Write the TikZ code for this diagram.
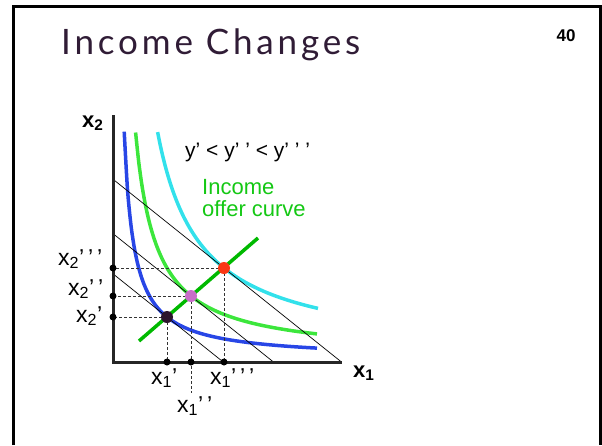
\documentclass[tikz,border=0pt]{standalone}
\usepackage{fontspec}
\setmainfont{Liberation Sans}
\newfontfamily\titlefont{Lato}[LetterSpace=11]
\usetikzlibrary{positioning}

\definecolor{titlecol}{RGB}{48,28,54}
\definecolor{icblue}{RGB}{40,70,230}
\definecolor{icgreen}{RGB}{60,230,60}
\definecolor{iccyan}{RGB}{50,225,235}
\definecolor{offergreen}{RGB}{0,185,0}
\definecolor{textgreen}{RGB}{20,200,20}
\definecolor{ptblack}{RGB}{45,20,45}
\definecolor{ptpurple}{RGB}{200,110,200}
\definecolor{ptred}{RGB}{250,55,20}

\begin{document}
\begin{tikzpicture}[x=1pt,y=-1pt,
    axis/.style={line width=3pt, black!85},
    budget/.style={line width=0.7pt, black},
    guide/.style={line width=0.6pt, black!80, dash pattern=on 3pt off 2pt},
    indiff/.style={line width=3.5pt},
    axdot/.style={circle, fill=black, inner sep=0pt, minimum size=7pt},
    optdot/.style={circle, inner sep=0pt, minimum size=12pt},
    lbl/.style={font=\fontsize{23}{25}\selectfont, inner sep=0pt, anchor=base west}
]
\useasboundingbox (0,0) rectangle (602,445);

% frame and heading
\draw[line width=3pt] (13,445) -- (13,6) -- (600,6) -- (600,445);
\node[anchor=base west, inner sep=0pt, text=titlecol,
      font=\titlefont\fontsize{35}{40}\selectfont] (title) at (61,54) {Income Changes};
\node[anchor=base, inner sep=0pt, font=\bfseries\fontsize{17}{19}\selectfont] (pagenum) at (566,41) {40};

\begin{scope}[shift={(113,362)}, y=1pt]
    \coordinate (O) at (0,0);
    \coordinate (ytop) at (0,247);
    \coordinate (xend) at (229,0);

    % indifference curves
    \draw[indiff, icblue]  plot[domain=11.2:204, samples=60, smooth] (\x, {3+2205/(\x-1.5)});
    \draw[indiff, icgreen] plot[domain=22.6:204, samples=60, smooth] (\x, {5.2+4620.8/(\x-2)});
    \draw[indiff, iccyan]  plot[domain=44.6:205, samples=60, smooth] (\x, {6.8+9505/(\x-2)});

    % budget lines
    \coordinate (b1y) at (0,88.2);  \coordinate (b1x) at (110.25,0);
    \coordinate (b2y) at (0,128.4); \coordinate (b2x) at (160.5,0);
    \coordinate (b3y) at (0,182.8); \coordinate (b3x) at (228.5,0);
    \draw[budget] (b1y) -- (b1x);
    \draw[budget] (b2y) -- (b2x);
    \draw[budget] (b3y) -- (b3x);

    % income offer curve
    \coordinate (oc1) at (26,21);
    \coordinate (oc2) at (145,124);
    \draw[indiff, offergreen] (oc1) -- (oc2);

    % axes
    \draw[axis] (ytop) -- (O) -- (xend);

    % optimal bundles
    \coordinate (A) at (54,45);
    \coordinate (B) at (78,66);
    \coordinate (C) at (111,94);
    \coordinate (Blow) at (78,-31);

    \draw[guide] (A) -- (A |- O);
    \draw[guide] (A) -- (A -| O);
    \draw[guide] (B) -- (Blow);
    \draw[guide] (B) -- (B -| O);
    \draw[guide] (C) -- (C |- O);
    \draw[guide] (C) -- (C -| O);

    \node[axdot] (Ax) at (A |- O) {};
    \node[axdot] (Bx) at (B |- O) {};
    \node[axdot] (Cx) at (C |- O) {};
    \node[axdot] (Ay) at (A -| O) {};
    \node[axdot] (By) at (B -| O) {};
    \node[axdot] (Cy) at (C -| O) {};

    \node[optdot, fill=ptblack]  (Apt) at (A) {};
    \node[optdot, fill=ptpurple] (Bpt) at (B) {};
    \node[optdot, fill=ptred]    (Cpt) at (C) {};
\end{scope}

% axis names
\node[anchor=base west, inner sep=0pt, font=\bfseries\fontsize{22}{24}\selectfont] (x2name) at (82,127) {x\textsubscript{2}};
\node[anchor=base west, inner sep=0pt, font=\bfseries\fontsize{22}{24}\selectfont] (x1name) at (353,377) {x\textsubscript{1}};

% quantity labels
\node[lbl] (x2c) at (58,265) {x\textsubscript{2}'\,'\,'};
\node[lbl] (x2b) at (68,295) {x\textsubscript{2}'\,'};
\node[lbl] (x2a) at (76,322) {x\textsubscript{2}'};
\node[lbl] (x1a) at (151,384) {x\textsubscript{1}'};
\node[lbl] (x1b) at (177,412) {x\textsubscript{1}'\,'};
\node[lbl] (x1c) at (210,384) {x\textsubscript{1}'\,'\,'};

% incomes
\node[anchor=base west, inner sep=0pt, font=\fontsize{21}{23}\selectfont] (incomes) at (185,157)
    {y' < y' ' < y' ' '};
\node[anchor=base west, inner sep=0pt, align=left, text=textgreen,
      font=\fontsize{22}{22}\selectfont] (offer) at (202,216) {Income\\offer curve};
\end{tikzpicture}
\end{document}
